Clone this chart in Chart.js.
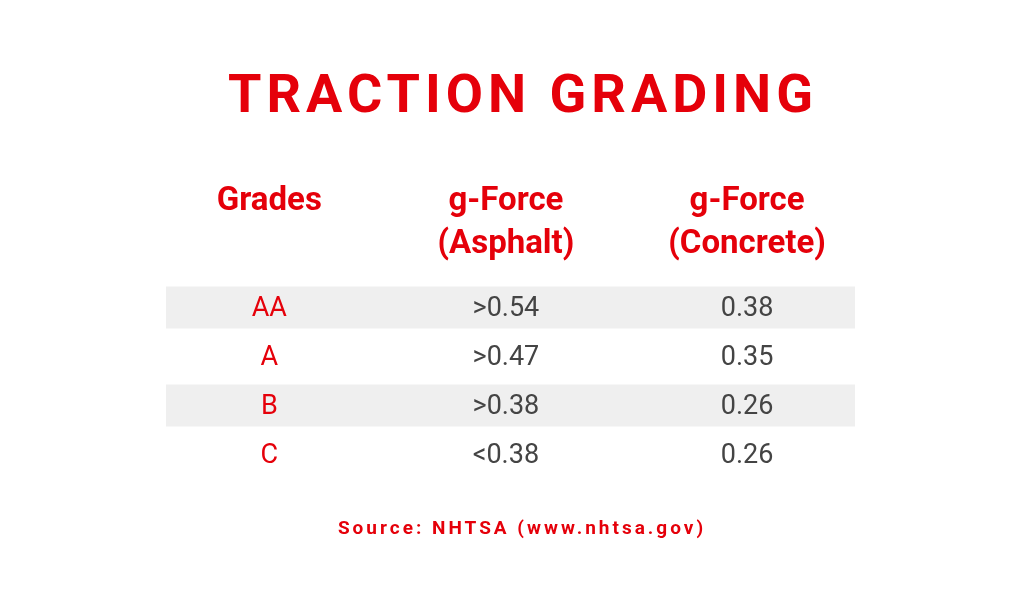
<!DOCTYPE html>
<html>
<head>
  <meta charset="UTF-8">
  <title>Traction Grading</title>
  <script src="https://cdn.jsdelivr.net/npm/chart.js"></script>
  <style>
    html, body { margin: 0; padding: 0; background: #fff; }
    #wrap { width: 1024px; height: 612px; }
  </style>
</head>
<body>
  <div id="wrap"><canvas id="tbl" width="1024" height="612"></canvas></div>
  <script>
    const titleText = 'TRACTION GRADING';
    const sourceText = 'Source: NHTSA (www.nhtsa.gov)';
    const headers = [['Grades'], ['g-Force', '(Asphalt)'], ['g-Force', '(Concrete)']];
    const grades = ['AA', 'A', 'B', 'C'];
    const asphalt = ['>0.54', '>0.47', '>0.38', '<0.38'];
    const concrete = ['0.38', '0.35', '0.26', '0.26'];
    const striped = [true, false, true, false];

    const RED = '#e5000a';
    const GREY = '#444444';
    // column centres on the 0..3 x scale
    const colX = [0.45, 1.48, 2.53];

    const tablePlugin = {
      id: 'tablePlugin',
      afterDraw(chart) {
        const ctx = chart.ctx;
        const xs = chart.scales.x, ys = chart.scales.y;
        ctx.save();
        ctx.textAlign = 'center';
        ctx.textBaseline = 'middle';

        ctx.fillStyle = RED;
        ctx.font = 'bold 54px Roboto, sans-serif';
        ctx.letterSpacing = '5px';
        ctx.fillText(titleText, 523, 98);

        ctx.letterSpacing = '0px';
        ctx.font = 'bold 33px Roboto, sans-serif';
        headers.forEach((lines, c) => {
          lines.forEach((l, i) => ctx.fillText(l, xs.getPixelForValue(colX[c]), 202 + i * 43));
        });

        ctx.font = '27px Roboto, sans-serif';
        grades.forEach((g, r) => {
          const y = ys.getPixelForValue(r) + 2;
          ctx.fillStyle = RED;
          ctx.fillText(g, xs.getPixelForValue(colX[0]), y);
          ctx.fillStyle = GREY;
          ctx.fillText(asphalt[r], xs.getPixelForValue(colX[1]), y);
          ctx.fillText(concrete[r], xs.getPixelForValue(colX[2]), y);
        });

        ctx.fillStyle = RED;
        ctx.font = 'bold 19px Roboto, sans-serif';
        ctx.letterSpacing = '3px';
        ctx.fillText(sourceText, 522, 529);
        ctx.restore();
      }
    };

    new Chart(document.getElementById('tbl'), {
      type: 'bar',
      data: {
        labels: grades,
        datasets: [{
          data: striped.map(s => s ? [0, 3] : null),
          backgroundColor: '#efefef',
          borderWidth: 0,
          barPercentage: 0.86,
          categoryPercentage: 1
        }]
      },
      options: {
        indexAxis: 'y',
        responsive: false,
        animation: false,
        layout: { padding: { top: 283, bottom: 133, left: 166, right: 169 } },
        plugins: { legend: { display: false }, tooltip: { enabled: false } },
        scales: {
          x: { type: 'linear', min: 0, max: 3, display: false },
          y: { type: 'category', display: false }
        }
      },
      plugins: [tablePlugin]
    });
  </script>
</body>
</html>
